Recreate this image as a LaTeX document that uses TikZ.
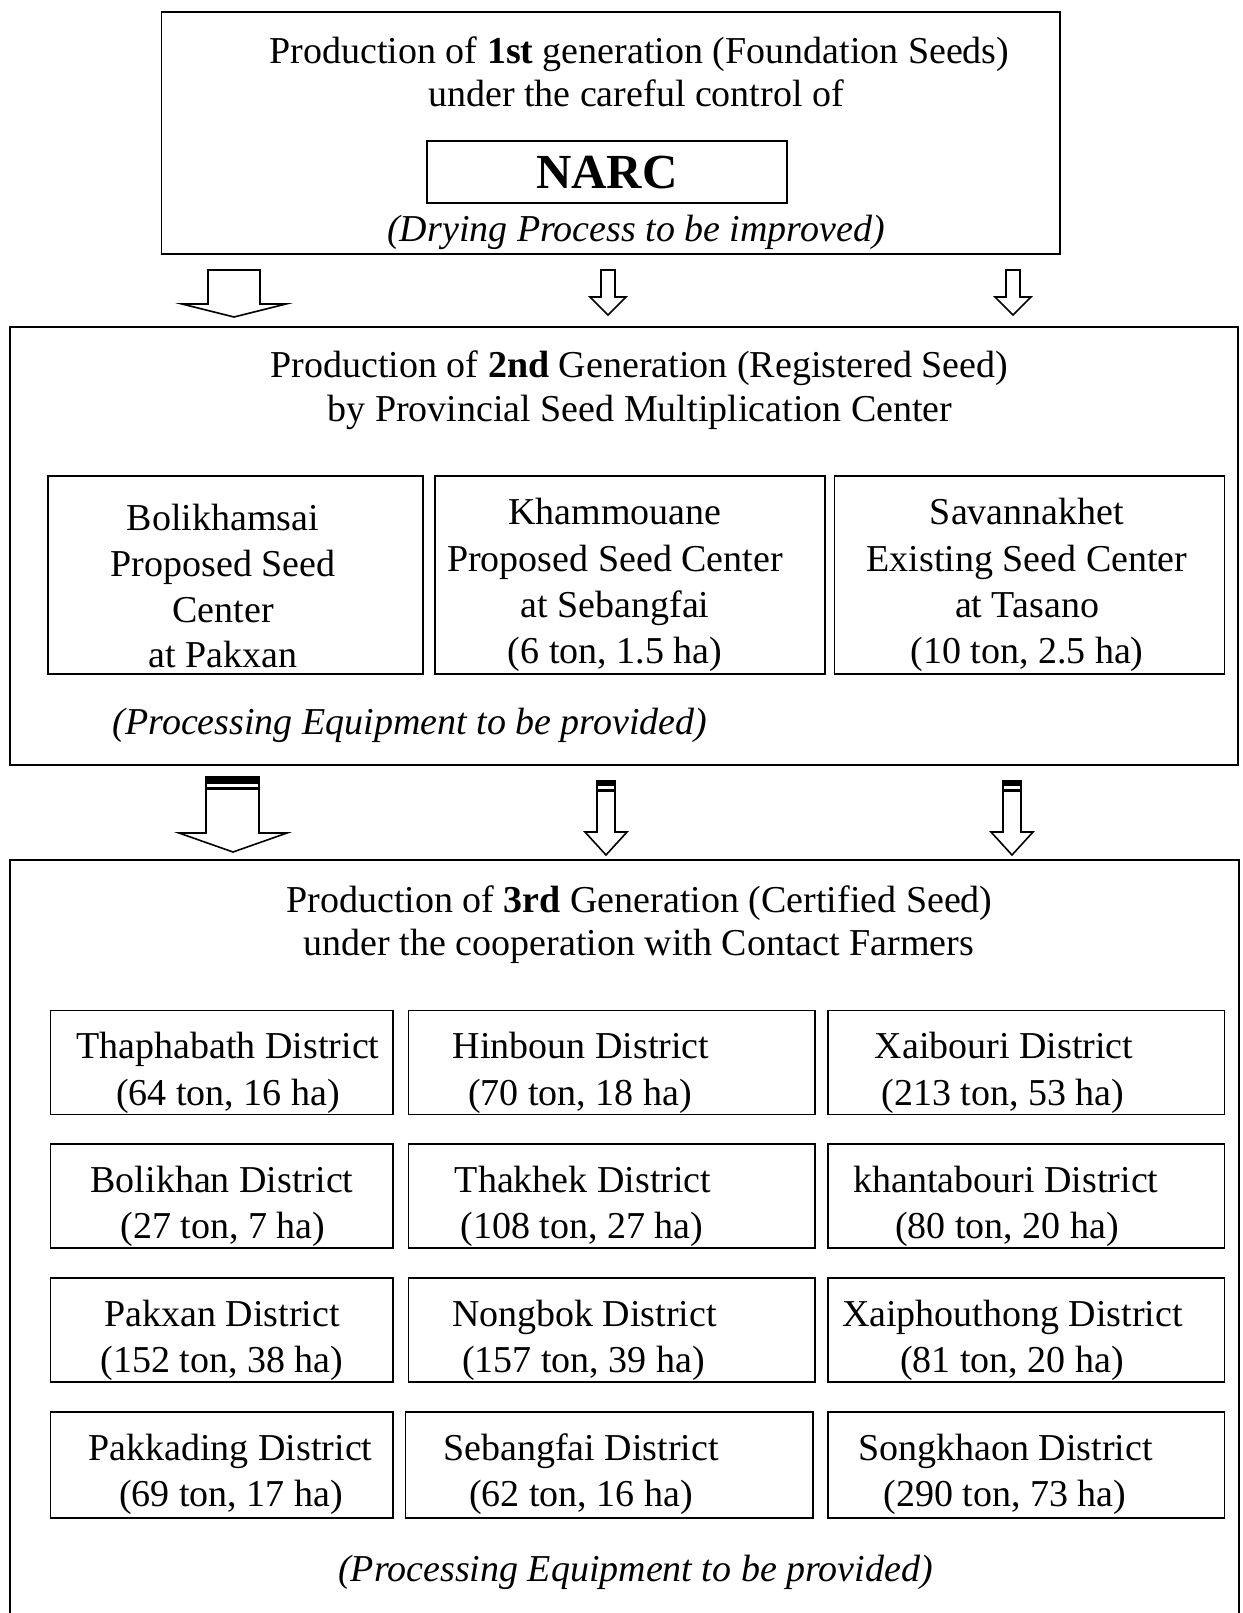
\documentclass[tikz,border=0pt]{standalone}
\usepackage{fontspec}
\setmainfont{Liberation Serif}
\begin{document}
\begin{tikzpicture}[x=1pt,y=-1pt,
  frame/.style={draw=black,line width=1.6pt},
  ibox/.style={draw=black,line width=1.8pt,inner sep=0pt},
  txt/.style={anchor=base,inner sep=0pt,font=\fontsize{38}{44}\selectfont},
  itx/.style={txt,font=\fontsize{38}{44}\selectfont\itshape},
  barrow/.style={draw=black,line width=1.6pt,fill=white,line join=miter},
]
\useasboundingbox (0,0) rectangle (1242,1613);
\fill[white] (0,0) rectangle (1242,1613);

% ---------- top box ----------
\node[ibox,frame,minimum width=898.5pt,minimum height=242pt] (top) at (610.75,133.15) {};
\node[txt] (t1) at (639.5,63.5) {Production of \textbf{1st} generation (Foundation Seeds)};
\node[txt] (t2) at (636,107) {under the careful control of};
\node[ibox,minimum width=360pt,minimum height=62pt] (narc) at (607,172) {};
\node[txt,font=\fontsize{49}{54}\selectfont\bfseries] (narct) at (607,188.5) {NARC};
\node[itx] (t3) at (636,242) {(Drying Process to be improved)};

% ---------- arrows row 1 ----------
\draw[barrow] (208,270) -- (260,270) -- (260,304) -- (286,304) -- (234,317) -- (182,304) -- (208,304) -- cycle;
\draw[barrow] (601,270) -- (615,270) -- (615,297) -- (626,297) -- (608,315) -- (590,297) -- (601,297) -- cycle;
\draw[barrow] (1006,270) -- (1020,270) -- (1020,297) -- (1031,297) -- (1013,315) -- (995,297) -- (1006,297) -- cycle;

% ---------- second box ----------
\node[ibox,frame,minimum width=1228pt,minimum height=438pt] (mid) at (624,546) {};
\node[txt] (m1) at (639.5,377) {Production of \textbf{2nd} Generation (Registered Seed)};
\node[txt] (m2) at (640,421.5) {by Provincial Seed Multiplication Center};

\node[ibox,minimum width=375pt,minimum height=198pt] (c1) at (235.5,575) {};
\node[ibox,minimum width=390pt,minimum height=198pt] (c2) at (630,575) {};
\node[ibox,minimum width=390pt,minimum height=198pt] (c3) at (1029.5,575) {};

\node[txt] (c1a) at (223,530) {Bolikhamsai};
\node[txt] (c1b) at (223,576) {Proposed Seed};
\node[txt] (c1c) at (223,622) {Center};
\node[txt] (c1d) at (223,667) {at Pakxan};

\node[txt] (c2a) at (615,524.5) {Khammouane};
\node[txt] (c2b) at (615,571) {Proposed Seed Center};
\node[txt] (c2c) at (615,617) {at Sebangfai};
\node[txt] (c2d) at (615,663.5) {(6 ton, 1.5 ha)};

\node[txt] (c3a) at (1027,524.5) {Savannakhet};
\node[txt] (c3b) at (1027,571) {Existing Seed Center};
\node[txt] (c3c) at (1027,617) {at Tasano};
\node[txt] (c3d) at (1027,663.5) {(10 ton, 2.5 ha)};

\node[itx] (m3) at (410,734) {(Processing Equipment to be provided)};

% ---------- arrows row 2 ----------
\draw[barrow] (206,777) -- (259,777) -- (259,833) -- (287,833) -- (233,852) -- (179,833) -- (206,833) -- cycle;
\fill[black] (206,777) rectangle (259,790);
\fill[white] (207,784) rectangle (258,786.5);
\draw[barrow] (597,781) -- (615,781) -- (615,832) -- (627,832) -- (606,855) -- (585,832) -- (597,832) -- cycle;
\fill[black] (597,781) rectangle (615,792);
\fill[white] (598,786) rectangle (614,788.5);
\draw[barrow] (1003,781) -- (1021,781) -- (1021,832) -- (1033,832) -- (1012,855) -- (991,832) -- (1003,832) -- cycle;
\fill[black] (1003,781) rectangle (1021,792);
\fill[white] (1004,786) rectangle (1020,788.5);

% ---------- third box ----------
\coordinate (bl) at (10,1625);
\coordinate (br) at (1239,1625);
\draw[line width=1.6pt] (bl) -- (10,860) -- (1239,860) -- (br);
\node[txt] (b1) at (639.5,912) {Production of \textbf{3rd} Generation (Certified Seed)};
\node[txt] (b2) at (639,955.5) {under the cooperation with Contact Farmers};

% grid boxes
\node[ibox,minimum width=342.5pt,minimum height=104pt] (g11) at (221.7,1062.5) {};
\node[ibox,minimum width=406.5pt,minimum height=104pt] (g12) at (611.7,1062.5) {};
\node[ibox,minimum width=396.5pt,minimum height=104pt] (g13) at (1026.2,1062.5) {};
\node[ibox,minimum width=342.5pt,minimum height=104pt] (g21) at (221.7,1196) {};
\node[ibox,minimum width=406.5pt,minimum height=104pt] (g22) at (611.7,1196) {};
\node[ibox,minimum width=396.5pt,minimum height=104pt] (g23) at (1026.2,1196) {};
\node[ibox,minimum width=342.5pt,minimum height=104pt] (g31) at (221.7,1330) {};
\node[ibox,minimum width=406.5pt,minimum height=104pt] (g32) at (611.7,1330) {};
\node[ibox,minimum width=396.5pt,minimum height=104pt] (g33) at (1026.2,1330) {};
\node[ibox,minimum width=342.5pt,minimum height=106pt] (g41) at (221.7,1465) {};
\node[ibox,minimum width=407.5pt,minimum height=106pt] (g42) at (609.2,1465) {};
\node[ibox,minimum width=396.5pt,minimum height=106pt] (g43) at (1026.2,1465) {};

\node[txt] (g11a) at (228,1058.5) {Thaphabath District};
\node[txt] (g11b) at (228,1105) {(64 ton, 16 ha)};
\node[txt] (g12a) at (581,1058.5) {Hinboun District};
\node[txt] (g12b) at (580,1105) {(70 ton, 18 ha)};
\node[txt] (g13a) at (1004,1058.5) {Xaibouri District};
\node[txt] (g13b) at (1003,1105) {(213 ton, 53 ha)};

\node[txt] (g21a) at (222,1192) {Bolikhan District};
\node[txt] (g21b) at (223,1238.5) {(27 ton, 7 ha)};
\node[txt] (g22a) at (583,1192) {Thakhek District};
\node[txt] (g22b) at (582,1238.5) {(108 ton, 27 ha)};
\node[txt] (g23a) at (1006,1192) {khantabouri District};
\node[txt] (g23b) at (1007,1238.5) {(80 ton, 20 ha)};

\node[txt] (g31a) at (222,1326) {Pakxan District};
\node[txt] (g31b) at (222,1372.5) {(152 ton, 38 ha)};
\node[txt] (g32a) at (584.5,1326) {Nongbok District};
\node[txt] (g32b) at (583.5,1372.5) {(157 ton, 39 ha)};
\node[txt] (g33a) at (1012.5,1326) {Xaiphouthong District};
\node[txt] (g33b) at (1012,1372.5) {(81 ton, 20 ha)};

\node[txt] (g41a) at (230.5,1460) {Pakkading District};
\node[txt] (g41b) at (231,1506.5) {(69 ton, 17 ha)};
\node[txt] (g42a) at (581,1460) {Sebangfai District};
\node[txt] (g42b) at (581,1506.5) {(62 ton, 16 ha)};
\node[txt] (g43a) at (1005.5,1460) {Songkhaon District};
\node[txt] (g43b) at (1005,1506.5) {(290 ton, 73 ha)};

\node[itx] (b3) at (635.5,1581) {(Processing Equipment to be provided)};
\end{tikzpicture}
\end{document}
